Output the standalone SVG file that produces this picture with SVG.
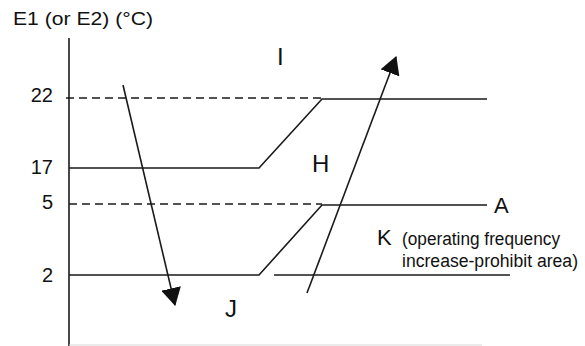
<svg xmlns="http://www.w3.org/2000/svg" width="585" height="346" viewBox="0 0 585 346">
<style>
.ln{stroke:#1a1a1a;stroke-width:1.6;fill:none}
.ds{stroke:#1a1a1a;stroke-width:1.6;fill:none;stroke-dasharray:8,5}
.t{font-family:"Liberation Sans",Arial,sans-serif;fill:#111}
</style>
<defs>
<marker id="ah" viewBox="0 0 18 20" refX="17" refY="10" markerWidth="18" markerHeight="20" markerUnits="userSpaceOnUse" orient="auto">
<path d="M0,0 L18,10 L0,20 Z" fill="#111"/>
</marker>
</defs>
<rect width="585" height="346" fill="#fff"/>
<g id="axes">
<line class="ln" x1="69" y1="38" x2="69" y2="346"/>
<line x1="69" y1="345" x2="482" y2="345" stroke="#d8d8d8" stroke-width="1.2"/>
</g>
<g id="labels">
<text class="t" x="13" y="25" font-size="18" textLength="140" lengthAdjust="spacingAndGlyphs">E1 (or E2) (°C)</text>
<text class="t" x="53" y="102" font-size="20" text-anchor="end">22</text>
<text class="t" x="53" y="174" font-size="20" text-anchor="end">17</text>
<text class="t" x="53" y="209" font-size="20" text-anchor="end">5</text>
<text class="t" x="53" y="282" font-size="20" text-anchor="end">2</text>
</g>
<g id="connectors">
<path class="ds" d="M66,98 H322"/>
<path class="ln" d="M69,168 H259 L322,99 H487"/>
<path class="ds" d="M69,204 H322"/>
<path class="ln" d="M69,275 H259 L322,205 H487"/>
<path class="ln" d="M274,275 H510"/>
<line class="ln" x1="123" y1="85" x2="175" y2="305" marker-end="url(#ah)"/>
<line class="ln" x1="307" y1="293" x2="396" y2="57" marker-end="url(#ah)"/>
</g>
<g id="region-I"><text class="t" x="277" y="65" font-size="24">I</text></g>
<g id="region-H"><text class="t" x="312" y="172" font-size="24">H</text></g>
<g id="line-A"><text class="t" x="494" y="213" font-size="22">A</text></g>
<g id="region-K">
<text class="t" x="377" y="245" font-size="22">K</text>
<text class="t" x="402" y="245" font-size="18" textLength="158" lengthAdjust="spacingAndGlyphs">(operating frequency</text>
<text class="t" x="402" y="267" font-size="18" textLength="176" lengthAdjust="spacingAndGlyphs">increase-prohibit area)</text>
</g>
<g id="region-J"><text class="t" x="225" y="317" font-size="24">J</text></g>
</svg>
